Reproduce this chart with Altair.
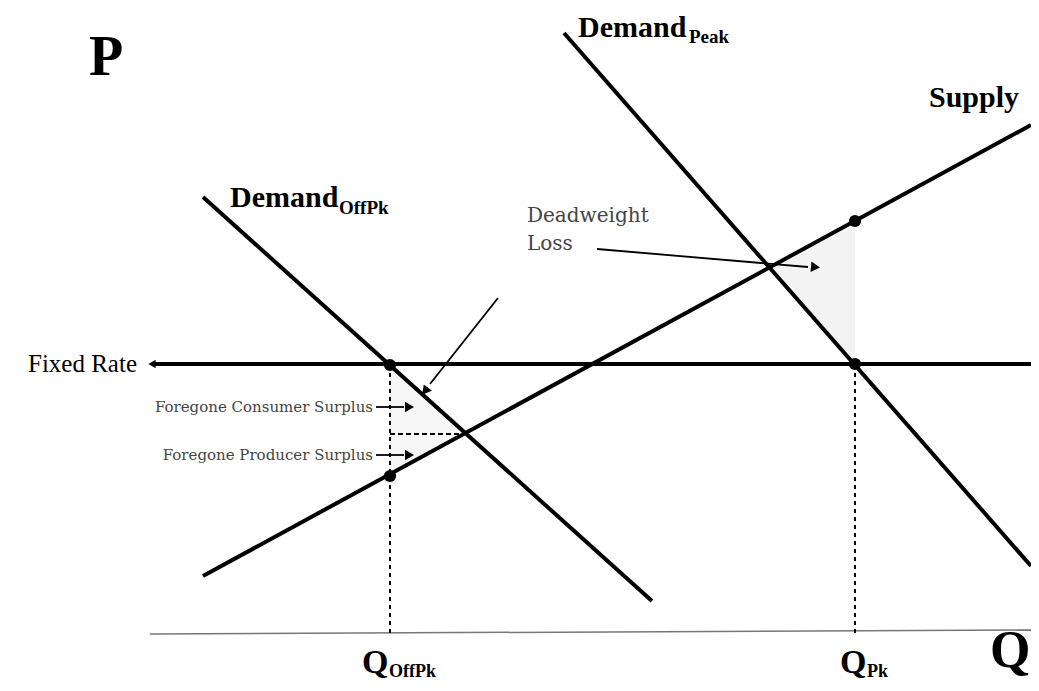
import altair as alt
import pandas as pd

# ---- economic curves (Q, P) ----
supply_q = [53, 881]
supply_p = [57, 508]
dem_off_q = [53, 502]
dem_off_p = [436, 32]
dem_peak_q = [414, 881]
dem_peak_p = [600, 67]
fixed_q = [4, 881]
fixed_p = [269, 269]
axis_q = [0, 882]
axis_p = [-1, 3]

# equilibrium / key points
pts_q = [240, 240, 705, 705]
pts_p = [268, 157, 412, 269]

q_off = 240
q_pk = 705
fixed_rate = 269
dash_p = 199
dash_q_end = 315

# deadweight-loss triangles
dwl_pk_q = [620, 705]
dwl_pk_top = [366, 412]
dwl_pk_bot = [366, 269]
dwl_off_q = [240, 315]
dwl_off_top = [268, 199]
dwl_off_bot = [157, 199]

X = alt.Scale(domain=[-142, 881])
Y = alt.Scale(domain=[-50, 625])


def xe(f="q"):
    return alt.X(f"{f}:Q", scale=X, axis=None)


def ye(f="p"):
    return alt.Y(f"{f}:Q", scale=Y, axis=None)


def seg(qs, ps, name):
    return pd.DataFrame({"q": qs, "p": ps, "s": name})


def line_layer(df, width=4, color="black", dash=None):
    kw = dict(strokeWidth=width, color=color, clip=True)
    if dash:
        kw["strokeDash"] = dash
    return alt.Chart(df).mark_line(**kw).encode(x=xe(), y=ye(), detail="s:N")


layers = []

# shaded triangles (faint)
layers.append(
    alt.Chart(pd.DataFrame({"q": dwl_pk_q, "p": dwl_pk_top, "p2": dwl_pk_bot}))
    .mark_area(color="#f3f3f3")
    .encode(x=xe(), y=ye(), y2="p2:Q")
)
layers.append(
    alt.Chart(pd.DataFrame({"q": dwl_off_q, "p": dwl_off_top, "p2": dwl_off_bot}))
    .mark_area(color="#f6f6f6")
    .encode(x=xe(), y=ye(), y2="p2:Q")
)

# horizontal axis
layers.append(line_layer(seg(axis_q, axis_p, "axis"), width=1.5, color="#777777"))

# dotted guides
layers.append(line_layer(pd.concat([
    seg([q_off, q_off], [0, fixed_rate], "d1"),
    seg([q_pk, q_pk], [0, fixed_rate], "d2"),
]), width=2, dash=[4, 4]))
layers.append(line_layer(seg([q_off, dash_q_end], [dash_p, dash_p], "h"), width=2, dash=[5, 3]))

# main curves
layers.append(line_layer(pd.concat([
    seg(supply_q, supply_p, "supply"),
    seg(dem_off_q, dem_off_p, "doff"),
    seg(dem_peak_q, dem_peak_p, "dpeak"),
    seg(fixed_q, fixed_p, "fixed"),
]), width=4))

# thin arrow shafts
layers.append(line_layer(pd.concat([
    seg([348, 280], [335, 249], "a1"),
    seg([447, 658], [384, 366], "a2"),
    seg([226, 254], [226, 226], "a3"),
    seg([226, 254], [178, 178], "a4"),
]), width=1.8))

# arrow heads
heads = pd.DataFrame({
    "q": [276, 664, 258, 258],
    "p": [243, 366, 226, 178],
    "ang": [218, 95, 90, 90],
})
layers.append(
    alt.Chart(heads).mark_point(shape="triangle", filled=True, color="black", opacity=1, size=110)
    .encode(x=xe(), y=ye(), angle=alt.Angle("ang:Q", scale=None))
)
layers.append(
    alt.Chart(pd.DataFrame({"q": [2], "p": [269]}))
    .mark_point(shape="triangle-left", filled=True, color="black", opacity=1, size=70)
    .encode(x=xe(), y=ye())
)

# dots
layers.append(
    alt.Chart(pd.DataFrame({"q": pts_q, "p": pts_p}))
    .mark_circle(size=150, color="black", opacity=1)
    .encode(x=xe(), y=ye())
)


def txt(labels, qs, ps, size, bold=True, align="left", font="Liberation Serif", color="black"):
    df = pd.DataFrame({"t": labels, "q": qs, "p": ps})
    return alt.Chart(df).mark_text(
        font=font, fontSize=size, fontWeight="bold" if bold else "normal",
        align=align, baseline="alphabetic", color=color,
    ).encode(x=xe(), y=ye(), text="t:N")


layers.append(txt(["P"], [-44], [558], 56, align="center"))
layers.append(txt(["Demand", "Demand", "Supply"], [428, 80, 779], [596, 426, 526], 30))
layers.append(txt(["Peak", "OffPk"], [539, 189], [590, 419], 19))
layers.append(txt(["Q", "Q"], [212, 690], [-40, -40], 34))
layers.append(txt(["OffPk", "Pk"], [239, 717], [-44, -44], 18))
layers.append(txt(["Q"], [840], [-34], 52))
layers.append(txt(["Fixed Rate"], [-13], [261], 25, bold=False, align="right"))
layers.append(txt(["Deadweight", "Loss"], [377, 377], [411, 383], 20, bold=False,
                  font="DejaVu Serif", color="#444444"))
layers.append(txt(["Foregone Consumer Surplus", "Foregone Producer Surplus"], [223, 223], [221, 173],
                  15, bold=False, align="right", font="DejaVu Serif", color="#444444"))

chart = alt.layer(*layers).properties(
    width=1023, height=675, padding=0, autosize="none", background="white"
).configure_view(stroke=None)

chart.save("out.html", embed_options={"renderer": "svg", "actions": False})
